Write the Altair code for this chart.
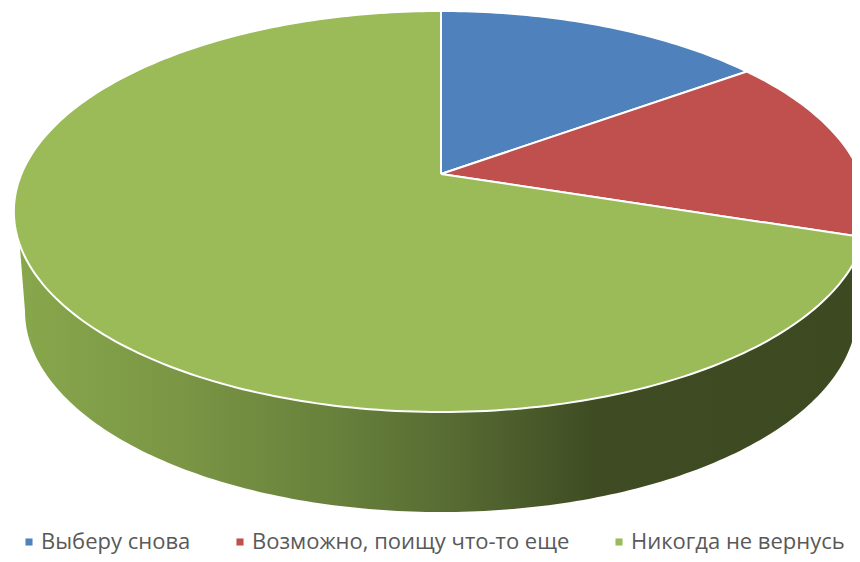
import math
import altair as alt
import pandas as pd

categories = ["Выберу снова", "Возможно, поищу что-то еще", "Никогда не вернусь"]
shares = [15, 15, 70]
colors = ["#4f81bd", "#c0504d", "#9bbb59"]

W, H = 844, 546
CX, VY = 441, 174          # pie centre as drawn
A, B, K = 419.6, 193.5, -0.187   # perspective of the top face
TOP_CY, TOP_A, TOP_B = 211, 427, 200.5   # outline of the top face
BOT_CY, BOT_A, BOT_B = 311, 416, 201     # outline of the bottom face


def rim(deg):
    t = math.radians(deg)
    u, v = math.sin(t), -math.cos(t)
    d = 1 + K * v
    return CX + A * u / d, VY + B * v / d


rows = []
start = 0.0
for cat, s in zip(categories, shares):
    sweep = 360 * s / sum(shares)
    n = max(8, int(sweep))
    pts = [(CX, VY)] + [rim(start + sweep * j / n) for j in range(n + 1)] + [(CX, VY)]
    for i, (x, y) in enumerate(pts):
        rows.append({"cat": cat, "i": i, "x": x, "y": y})
    start += sweep
slices = pd.DataFrame(rows)

wall = []
for deg in range(-5, 186):       # lower half of the top outline, right to left
    t = math.radians(deg)
    wall.append((CX + TOP_A * math.cos(t), TOP_CY + TOP_B * math.sin(t)))
for deg in range(180, -1, -1):   # lower half of the bottom outline, left to right
    t = math.radians(deg)
    wall.append((CX + BOT_A * math.cos(t), BOT_CY + BOT_B * math.sin(t)))
walls = pd.DataFrame([{"i": i, "x": x, "y": y} for i, (x, y) in enumerate(wall)])

xs = alt.Scale(domain=[8, 8 + W], nice=False, zero=False)
ys = alt.Scale(domain=[8 + H, 8], nice=False, zero=False)
X = alt.X("x:Q", scale=xs, axis=None)
Y = alt.Y("y:Q", scale=ys, axis=None)

gradient = alt.Gradient(
    gradient="linear", x1=0, x2=1, y1=0, y2=0,
    stops=[
        alt.GradientStop(offset=0.0, color="#88a84c"),
        alt.GradientStop(offset=0.2, color="#7a9544"),
        alt.GradientStop(offset=0.38, color="#67803b"),
        alt.GradientStop(offset=0.52, color="#566a32"),
        alt.GradientStop(offset=0.68, color="#3f4c23"),
        alt.GradientStop(offset=1.0, color="#3d4920"),
    ],
)

wall_layer = alt.Chart(walls).mark_line(fill=gradient, strokeWidth=0, clip=True).encode(
    x=X, y=Y, order="i:Q"
)

top_layer = alt.Chart(slices).mark_line(
    stroke="white", strokeWidth=2, strokeJoin="round", clip=True
).encode(
    x=X, y=Y, order="i:Q",
    fill=alt.Fill(
        "cat:N",
        sort=categories,
        scale=alt.Scale(domain=categories, range=colors),
        legend=alt.Legend(
            title=None, orient="none", direction="horizontal",
            legendX=10, legendY=523,
            symbolType="square", symbolSize=50, symbolStrokeWidth=0,
            labelFont="Open Sans", labelFontSize=22, labelColor="#595959",
            labelOffset=1, columnPadding=38, labelLimit=400, padding=0,
        ),
    ),
)

chart = alt.layer(wall_layer, top_layer).properties(
    width=W, height=H, padding=0, autosize=alt.AutoSizeParams(type="none"),
    background="white",
).configure_view(stroke=None)

chart.save("out.html", embed_options={"renderer": "svg", "actions": False})
